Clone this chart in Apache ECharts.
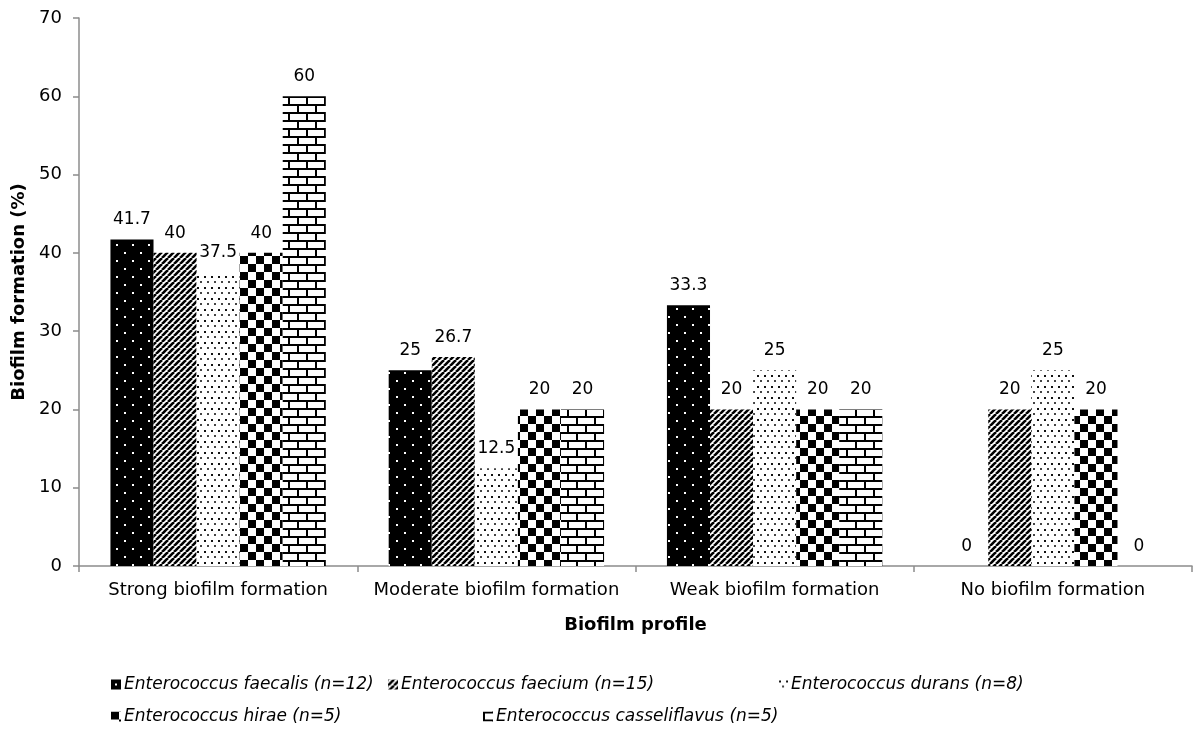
<!DOCTYPE html>
<html>
<head>
<meta charset="utf-8">
<title>Biofilm formation by Enterococcus species</title>
<script src="https://cdn.jsdelivr.net/npm/echarts@6/dist/echarts.min.js"></script>
<style>
  html, body { margin: 0; padding: 0; background: #fff; }
  #chart { width: 1196px; height: 736px; }
</style>
</head>
<body>
<div id="chart"></div>
<script>
// Biofilm profile categories (x axis)
const categories = ['Strong biofilm formation', 'Moderate biofilm formation', 'Weak biofilm formation', 'No biofilm formation'];

// Species names shown in the legend
const speciesNames = [
  'Enterococcus faecalis (n=12)',
  'Enterococcus faecium (n=15)',
  'Enterococcus durans (n=8)',
  'Enterococcus hirae (n=5)',
  'Enterococcus casseliflavus (n=5)'
];

// Percentage of isolates per biofilm profile, one array per species
const faecalis = [41.7, 25, 33.3, 0];
const faecium = [40, 26.7, 20, 20];
const durans = [37.5, 12.5, 25, 25];
const hirae = [40, 20, 20, 20];
const casseliflavus = [60, 20, 20, 0];

// Y axis ticks
const yTicks = [0, 10, 20, 30, 40, 50, 60, 70];

// ---- monochrome fill patterns ----
function tile(w, h, draw) {
  const c = document.createElement('canvas');
  c.width = w; c.height = h;
  const ctx = c.getContext('2d');
  ctx.fillStyle = '#fff';
  ctx.fillRect(0, 0, w, h);
  draw(ctx);
  return { image: c, repeat: 'repeat' };
}

// black with sparse white dots
const dottedBlack = tile(16, 16, ctx => {
  ctx.fillStyle = '#000';
  ctx.fillRect(0, 0, 16, 16);
  ctx.fillStyle = '#fff';
  ctx.fillRect(4, 4, 2, 2);
  ctx.fillRect(12, 12, 2, 2);
});

// dark diagonal stripes
const diagonal = tile(6, 6, ctx => {
  ctx.strokeStyle = '#000';
  ctx.lineWidth = 2.6;
  for (let x0 = -6; x0 <= 6; x0 += 6) {
    ctx.beginPath();
    ctx.moveTo(x0, 6);
    ctx.lineTo(x0 + 6, 0);
    ctx.stroke();
  }
});

// white with small staggered black dots
const dottedWhite = tile(7, 11, ctx => {
  ctx.fillStyle = '#111';
  ctx.fillRect(1, 1, 2, 2);
  ctx.fillStyle = '#444';
  ctx.fillRect(4, 6, 2, 2);
});

// large checkerboard
const checker = tile(16, 16, ctx => {
  ctx.fillStyle = '#000';
  ctx.fillRect(0, 0, 8, 8);
  ctx.fillRect(8, 8, 8, 8);
});

// brick wall
const brick = tile(18, 16, ctx => {
  ctx.fillStyle = '#000';
  ctx.fillRect(0, 0, 18, 2);
  ctx.fillRect(0, 8, 18, 2);
  ctx.fillRect(0, 0, 2, 8);
  ctx.fillRect(9, 8, 2, 8);
});

const seriesData = [faecalis, faecium, durans, hirae, casseliflavus];
const fills = [dottedBlack, diagonal, dottedWhite, checker, brick];

const FONT = 'DejaVu Sans, Verdana, sans-serif';

const series = seriesData.map((vals, i) => ({
  name: speciesNames[i],
  type: 'bar',
  data: vals,
  barGap: '0%',
  barCategoryGap: '22.6%',
  itemStyle: { color: fills[i] },
  label: {
    show: true,
    position: 'top',
    distance: 11,
    color: '#000',
    fontFamily: FONT,
    fontSize: 17
  }
}));

// legend layout: two rows, each item placed on its own
const legendSpots = [
  { left: 111, top: 676 },
  { left: 388, top: 676 },
  { left: 778, top: 676 },
  { left: 111, top: 708 },
  { left: 483, top: 708 }
];
const legends = speciesNames.map((n, i) => ({
  data: [n],
  left: legendSpots[i].left,
  top: legendSpots[i].top,
  padding: 0,
  icon: 'rect',
  itemWidth: 10,
  itemHeight: 10,
  itemGap: 0,
  selectedMode: false,
  textStyle: { fontFamily: FONT, fontSize: 17, fontStyle: 'italic', color: '#000', padding: [0, 0, 0, -2] }
}));

const chart = echarts.init(document.getElementById('chart'), null, { renderer: 'canvas' });
chart.setOption({
  animation: false,
  backgroundColor: '#fff',
  grid: { left: 79, right: 4, top: 18, bottom: 170, containLabel: false, outerBoundsMode: 'none' },
  legend: legends,
  xAxis: {
    type: 'category',
    data: categories,
    name: 'Biofilm profile',
    nameLocation: 'middle',
    nameGap: 50,
    nameTextStyle: { fontFamily: FONT, fontSize: 18, fontWeight: 'bold', color: '#000' },
    axisLine: { lineStyle: { color: '#8c8c8c', width: 1.5 } },
    axisTick: { show: true, length: 6, alignWithLabel: false, lineStyle: { color: '#8c8c8c', width: 1.5 } },
    axisLabel: { fontFamily: FONT, fontSize: 18, color: '#000', margin: 15, interval: 0 },
    splitLine: { show: false }
  },
  yAxis: {
    type: 'value',
    min: yTicks[0],
    max: yTicks[yTicks.length - 1],
    interval: yTicks[1] - yTicks[0],
    name: 'Biofilm formation (%)',
    nameLocation: 'middle',
    nameGap: 50,
    nameRotate: 90,
    nameTextStyle: { fontFamily: FONT, fontSize: 18, fontWeight: 'bold', color: '#000' },
    axisLine: { show: true, lineStyle: { color: '#8c8c8c', width: 1.5 } },
    axisTick: { show: true, length: 6, lineStyle: { color: '#8c8c8c', width: 1.5 } },
    axisLabel: { fontFamily: FONT, fontSize: 18, color: '#000', margin: 17 },
    splitLine: { show: false }
  },
  series: series
});
</script>
</body>
</html>
